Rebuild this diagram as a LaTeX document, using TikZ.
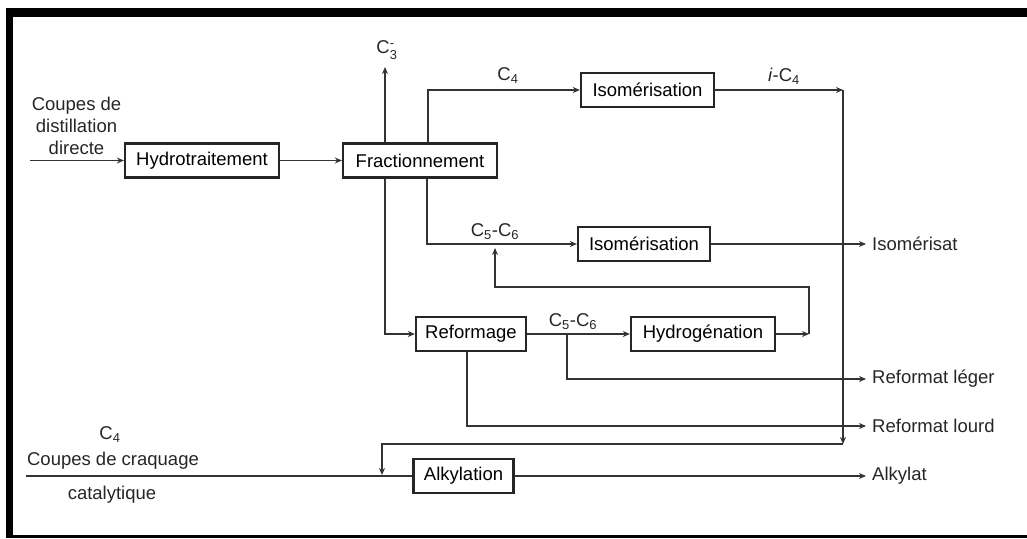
\documentclass[tikz,border=0pt]{standalone}
\usepackage{amsmath}
\usepackage{fontspec}
\setmainfont{Liberation Sans}
\usetikzlibrary{arrows.meta}
\newcommand\Csub[1]{C$_{\text{#1}}$}
\begin{document}
\begin{tikzpicture}[x=1pt,y=-1pt,
  box/.style={draw=black!85, line width=2.3pt, minimum height=34pt, inner sep=0pt,
    font=\fontsize{18.5}{22}\selectfont},
  lbl/.style={inner sep=0pt, font=\fontsize{18.5}{22}\selectfont, text=black!85},
  ln/.style={line width=1.3pt, draw=black!80},
  arr/.style={ln, -{Stealth[length=7pt,width=6pt]}}]
\useasboundingbox (0,0) rectangle (1027,538);
% frame
\fill[black] (6,8) rectangle (1027,17);
\fill[black] (6,8) rectangle (13,538);
\fill[black] (6,535) rectangle (1027,538);
% boxes
\node[box, minimum width=154pt] (hyd) at (202,160.5) {Hydrotraitement};
\node[box, minimum width=154pt] (fra) at (420,160.5) {Fractionnement};
\node[box, minimum width=133pt] (iso1) at (647.5,90) {Isomérisation};
\node[box, minimum width=132pt] (iso2) at (644,244) {Isomérisation};
\node[box, minimum width=110pt] (ref) at (471,334) {Reformage};
\node[box, minimum width=144pt] (hdg) at (703,334) {Hydrogénation};
\node[box, minimum width=100pt] (alk) at (463.5,476) {Alkylation};
% coordinates
\coordinate (in1) at (30,160.5);
\coordinate (c3) at (385,67);
\coordinate (k1) at (428,90);
\coordinate (r1) at (843,90);
\coordinate (r2) at (843,444);
\coordinate (r3) at (382,444);
\coordinate (r4) at (382,475);
\coordinate (in2) at (26,476);
\coordinate (k2) at (427,244);
\coordinate (o1) at (866,244);
\coordinate (k3) at (385,334);
\coordinate (f1) at (809,334);
\coordinate (f2) at (809,287);
\coordinate (f3) at (495,287);
\coordinate (f4) at (495,248);
\coordinate (b1) at (567,334);
\coordinate (b2) at (567,379);
\coordinate (o2) at (866,379);
\coordinate (b3) at (467,426);
\coordinate (o3) at (866,426);
\coordinate (o4) at (866,476);
% labels
\node[lbl, align=center] (ldist) at (76.5,126) {Coupes de\\distillation\\directe};
\node[lbl] (lc3) at (387,50) {C$_{\text{3}}^{\text{-}}$};
\node[lbl] (lc4) at (508,76) {\Csub{4}};
\node[lbl] (lic4) at (784,76) {\textit{i}-\Csub{4}};
\node[lbl] (lc56a) at (495,232) {\Csub{5}-\Csub{6}};
\node[lbl] (lc56b) at (573,322) {\Csub{5}-\Csub{6}};
\node[lbl, anchor=west] (liso) at (872,244) {Isomérisat};
\node[lbl, anchor=west] (lleg) at (872,379) {Reformat léger};
\node[lbl, anchor=west] (llou) at (872,426) {Reformat lourd};
\node[lbl, anchor=west] (lalk) at (872,476) {Alkylat};
\node[lbl] (lc4b) at (110,435) {\Csub{4}};
\node[lbl] (lcraq) at (113,461) {Coupes de craquage};
\node[lbl] (lcat) at (112,495) {catalytique};
% connectors
\draw[arr] (in1) -- (hyd.west);
\draw[arr] (hyd) -- (fra);
\draw[arr] (fra.north -| c3) -- (c3);
\draw[arr] (fra.north -| k1) -- (k1) -- (iso1.west);
\draw[arr] (iso1.east) -- (r1);
\draw[arr] (r1) -- (r2);
\draw[arr] (r2) -- (r3) -- (r4);
\draw[ln] (in2) -- (alk.west);
\draw[arr] (fra.south -| k2) -- (k2) -- (iso2.west);
\draw[arr] (iso2.east) -- (o1);
\draw[arr] (fra.south -| k3) -- (k3) -- (ref.west);
\draw[arr] (ref) -- (hdg);
\draw[arr] (hdg.east) -- (f1);
\draw[arr] (f1) -- (f2) -- (f3) -- (f4);
\draw[arr] (b1) -- (b2) -- (o2);
\draw[arr] (ref.south -| b3) -- (b3) -- (o3);
\draw[arr] (alk.east) -- (o4);
\end{tikzpicture}
\end{document}
